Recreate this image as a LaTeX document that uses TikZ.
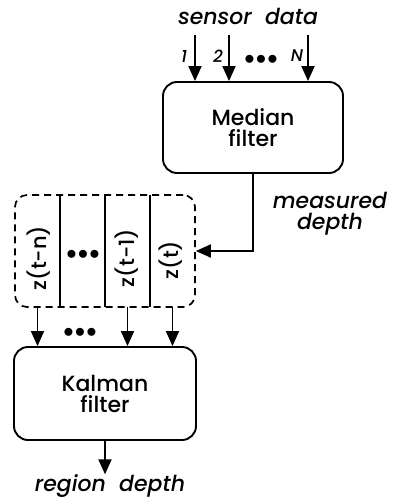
\documentclass[tikz,border=0pt]{standalone}
\usepackage{fontspec}
\setmainfont{Poppins}[UprightFont=* Medium,ItalicFont=* Medium Italic]
\usetikzlibrary{arrows.meta}
\begin{document}
\begin{tikzpicture}[x=1pt,y=-1pt,
  box/.style={draw,line width=1.9pt,rounded corners=14pt,align=center,font=\fontsize{22}{24}\selectfont,inner sep=0pt},
  arr/.style={line width=1.9pt,-{Triangle[length=15pt,width=13pt]}},
  lab/.style={font=\fontsize{22}{22}\selectfont\itshape,inner sep=0pt},
  small/.style={font=\fontsize{17}{17}\selectfont\itshape,inner sep=0pt},
  cell/.style={minimum width=45pt,minimum height=112pt,inner sep=0pt,font=\fontsize{21}{21}\selectfont},
  celltext/.style={inner sep=0pt,font=\fontsize{21}{21}\selectfont},
  dots/.style={font=\fontsize{21}{21}\selectfont,inner sep=0pt}]
\useasboundingbox (0,0) rectangle (393,500);
% median filter
\node[box,minimum width=180pt,minimum height=91pt] (med) at (253,127.5) {Median\\[-3pt]filter};
\node[lab] (sd) at (248,16) {sensor\ \ data};
\coordinate (s1) at (195,35);
\coordinate (s2) at (229,35);
\coordinate (sN) at (308,35);
\draw[arr] (s1) -- (s1 |- med.north);
\draw[arr] (s2) -- (s2 |- med.north);
\draw[arr] (sN) -- (sN |- med.north);
\node[small] (l1) at (184,56) {1};
\node[small] (l2) at (218,56) {2};
\node[small] (lN) at (297,56) {N};
\node[dots] (d1) at (261,60) {$\bullet\!\bullet\!\bullet$};
% buffer
\node[draw,line width=1.7pt,dash pattern=on 7pt off 5pt,rounded corners=12pt,minimum width=180pt,minimum height=112pt,inner sep=0pt] (buf) at (105,251) {};
\node[cell] (c1) at (37.5,251) {};
\node[cell] (c2) at (82.5,251) {};
\node[cell] (c3) at (127.5,251) {};
\node[cell] (c4) at (172.5,251) {};
\node[celltext,rotate=90] (t1) at (39,258) {z(t-n)};
\node[dots] (t2) at (83,255) {$\bullet\!\bullet\!\bullet$};
\node[celltext,rotate=90] (t3) at (127,258) {z(t-1)};
\node[celltext,rotate=90] (t4) at (171,260) {z(t)};
\draw[line width=1.9pt] (c1.north east) -- (c1.south east);
\draw[line width=1.9pt] (c2.north east) -- (c2.south east);
\draw[line width=1.9pt] (c3.north east) -- (c3.south east);
\draw[arr] (med.south) |- (buf.east);
\node[lab,align=center] (md) at (330,214) {measured\\[-1pt]depth};
% kalman
\node[box,minimum width=182pt,minimum height=93pt] (kal) at (105,393.5) {Kalman\\[-3pt]filter};
\draw[arr] (c1.south) -- (c1.south |- kal.north);
\draw[arr] (c3.south) -- (c3.south |- kal.north);
\draw[arr] (c4.south) -- (c4.south |- kal.north);
\node[dots] (d2) at (80,333) {$\bullet\!\bullet\!\bullet$};
\node[lab] (rd) at (110,486) {region\ \ depth};
\draw[arr] (kal.south) -- (kal.south |- rd.north);
\end{tikzpicture}
\end{document}
